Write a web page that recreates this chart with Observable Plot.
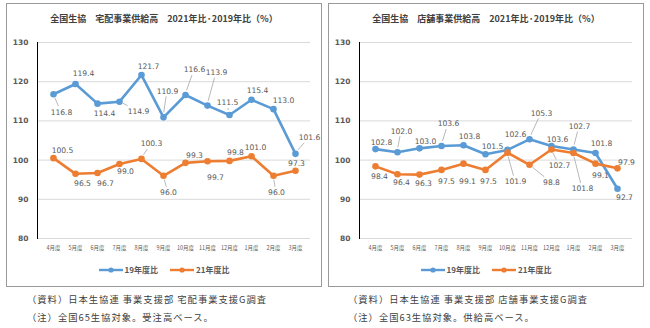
<!DOCTYPE html>
<html><head><meta charset="utf-8">
<script src="https://cdn.jsdelivr.net/npm/d3@7"></script>
<script src="https://cdn.jsdelivr.net/npm/@observablehq/plot@0.6"></script>
<style>
body{margin:0;width:650px;height:328px;background:#fff;position:relative;overflow:hidden;font-family:"Noto Sans CJK JP",sans-serif;}
.panel{position:absolute;top:3px;width:314px;height:282px;border:1px solid #9a9a9a;}
.title{position:absolute;top:9px;left:0;width:100%;text-align:center;font-size:9px;font-weight:bold;color:#404040;line-height:12px;white-space:pre;}
.chart{position:absolute;top:29px;left:0;}
.legend{position:absolute;top:260px;left:0;width:100%;text-align:center;font-size:8px;font-weight:bold;color:#595959;line-height:12px;}
.legend span{display:inline-flex;align-items:center;margin:0 6px;}
.legend svg{margin-right:2px;}
.note{position:absolute;font-size:9.3px;color:#404040;line-height:12px;white-space:pre;letter-spacing:1px;}
</style>
</head><body>
<div class="panel" id="p1" style="left:6px"><div class="title">全国生協　宅配事業供給高　2021年比·2019年比（%）</div><div class="chart" id="c1"></div><div class="legend" id="l1"></div></div>
<div class="panel" id="p2" style="left:328px"><div class="title">全国生協　店舗事業供給高　2021年比·2019年比（%）</div><div class="chart" id="c2"></div><div class="legend" id="l2"></div></div>
<div class="note" style="left:27px;top:293px">（資料）日本生協連 事業支援部 宅配事業支援G調査</div>
<div class="note" style="left:27px;top:311px">（注）全国65生協対象。受注高ベース。</div>
<div class="note" style="left:348px;top:293px">（資料）日本生協連 事業支援部 店舗事業支援G調査</div>
<div class="note" style="left:348px;top:311px">（注）全国63生協対象。供給高ベース。</div>
<script>
// ---- data ----
const months = ["4月度","5月度","6月度","7月度","8月度","9月度","10月度","11月度","12月度","1月度","2月度","3月度"];
const seriesNames = ["19年度比","21年度比"];
const home19 = [116.8,119.4,114.4,114.9,121.7,110.9,116.6,113.9,111.5,115.4,113.0,101.6];
const home21 = [100.5,96.5,96.7,99.0,100.3,96.0,99.3,99.7,99.8,101.0,96.0,97.3];
const store19 = [102.8,102.0,103.0,103.6,103.8,101.5,102.6,105.3,103.6,102.7,101.8,92.7];
const store21 = [98.4,96.4,96.3,97.5,99.1,97.5,101.9,98.8,102.7,101.8,99.1,97.9];
const yTicks = [80,90,100,110,120,130];

// ---- layout (label offsets in px: dx, dy, leader) ----
const colors = ["#5b9bd5","#ed7d31"];
const offHome19 = [[8,18,1],[8,-10,0],[7,10,0],[19,10,1],[7,-8,0],[4,-26,1],[9,-25,1],[9,-33,1],[-2,-12,1],[6,-9,0],[10,-9,0],[14,-16,1]];
const offHome21 = [[9,-8,0],[7,10,0],[8,11,0],[6,8,0],[10,-15,1],[5,17,1],[9,-7,0],[8,16,0],[6,-8,0],[4,-9,0],[3,17,1],[1,-7,0]];
const offStore19 = [[6,-7,0],[4,-21,1],[6,-7,0],[7,-22,1],[6,-9,0],[7,-8,0],[8,-15,0],[12,-26,1],[6,-6,0],[6,-23,1],[6,-9,0],[7,9,0]];
const offStore21 = [[4,10,0],[4,8,0],[4,9,0],[5,12,0],[4,18,0],[3,12,0],[8,29,1],[22,18,1],[8,16,1],[9,36,1],[5,12,0],[9,-6,0]];

function makeChart(el, s19, s21, o19, o21) {
  const rows = [];
  [s19, s21].forEach((s, k) => s.forEach((v, i) => rows.push({m: months[i], v, series: seriesNames[k], k, off: (k ? o21 : o19)[i]})));
  const marks = [
    Plot.gridY(yTicks, {stroke: "#d9d9d9", strokeOpacity: 1}),
    Plot.frame({anchor: "left", stroke: "#000"}),
    Plot.axisY(yTicks, {tickSize: 6, dx: 3, tickPadding: 6, fontSize: 7.5, fontWeight: "bold", fill: "#595959", stroke: null, fontFamily: "DejaVu Sans"}),
    Plot.axisX({tickSize: 0, tickPadding: 8, fontSize: 5.5, fill: "#595959", fontFamily: "Noto Sans CJK JP", label: null}),
  ];
  [0, 1].forEach(k => {
    const d = rows.filter(r => r.k === k);
    marks.push(Plot.line(d, {x: "m", y: "v", stroke: colors[k], strokeWidth: 2.6}));
    marks.push(Plot.dot(d, {x: "m", y: "v", fill: colors[k], r: 3.3}));
  });
  rows.forEach(r => marks.push(Plot.text([r], {x: "m", y: "v", text: d => d.v.toFixed(1), dx: r.off[0], dy: r.off[1], fontSize: 7.6, fill: "#595959", fontFamily: "DejaVu Sans"})));
  const plot = Plot.plot({
    width: 314, height: 225,
    marginLeft: 30, marginRight: 11, marginTop: 9, marginBottom: 20,
    x: {type: "point", domain: months, padding: 0.5, label: null},
    y: {domain: [80, 130], label: null},
    style: {background: "transparent", overflow: "visible"},
    marks
  });
  // leader lines
  const xs = plot.scale("x"), ys = plot.scale("y");
  const g = d3.select(plot).append("g").attr("stroke", "#a6a6a6").attr("stroke-width", 0.8);
  rows.filter(r => r.off[2]).forEach(r => {
    const px = xs.apply(r.m), py = ys.apply(r.v);
    const cx = px + r.off[0], cy = py + r.off[1];
    const L = Math.hypot(cx - px, cy - py);
    const ux = (cx - px) / L, uy = (cy - py) / L;
    const t = Math.min(ux ? 12 / Math.abs(ux) : 1e9, uy ? 5.5 / Math.abs(uy) : 1e9);
    const sx = px + ux * 4.5, sy = py + uy * 4.5;
    const ex = cx - ux * t, ey = cy - uy * t;
    if ((ex - sx) * ux + (ey - sy) * uy > 2) g.append("line").attr("x1", sx).attr("y1", sy).attr("x2", ex).attr("y2", ey);
  });
  document.getElementById(el).appendChild(plot);
}
function makeLegend(el) {
  const L = document.getElementById(el);
  seriesNames.forEach((n, k) => {
    const s = document.createElement("span");
    s.innerHTML = `<svg width="24" height="8"><line x1="0" y1="4" x2="24" y2="4" stroke="${colors[k]}" stroke-width="2.4"/><circle cx="12" cy="4" r="2.6" fill="${colors[k]}"/></svg>`;
    s.appendChild(document.createTextNode(n));
    L.appendChild(s);
  });
}
makeChart("c1", home19, home21, offHome19, offHome21);
makeChart("c2", store19, store21, offStore19, offStore21);
makeLegend("l1"); makeLegend("l2");
</script>
</body></html>
